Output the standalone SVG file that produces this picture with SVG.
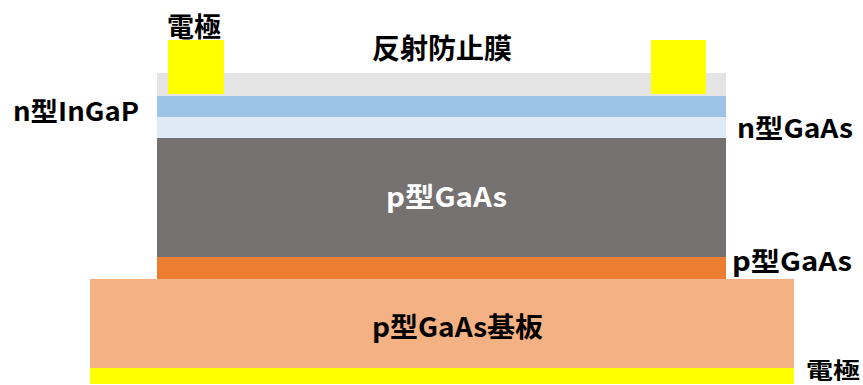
<svg xmlns="http://www.w3.org/2000/svg" width="863" height="385" viewBox="0 0 863 385">
<style>
text{font-family:"Noto Sans CJK JP","Liberation Sans",sans-serif;font-weight:bold;fill:#000;}
.w{fill:#fff;}
.c{text-anchor:middle;}
</style>
<rect width="863" height="385" fill="#fff"/>
<g id="substrate"><rect x="90" y="279" width="704" height="89" fill="#f4b183"/><text x="372" y="337" font-size="27" textLength="171" lengthAdjust="spacingAndGlyphs">p型GaAs基板</text></g>
<g id="bottom-electrode"><rect x="90" y="368" width="704" height="16" fill="#ffff00"/><text x="806" y="378" font-size="22" textLength="54" lengthAdjust="spacingAndGlyphs">電極</text></g>
<g id="p-gaas-thin"><rect x="157" y="257" width="569" height="22" fill="#ed7d31"/><text x="732" y="271" font-size="26" textLength="120" lengthAdjust="spacingAndGlyphs">p型GaAs</text></g>
<g id="p-gaas"><rect x="157" y="138" width="569" height="119" fill="#767171"/><text class="w" x="386" y="207" font-size="27" textLength="121" lengthAdjust="spacingAndGlyphs">p型GaAs</text></g>
<g id="n-gaas"><rect x="157" y="117" width="569" height="21" fill="#deebf7"/><text x="737" y="138" font-size="26" textLength="116" lengthAdjust="spacingAndGlyphs">n型GaAs</text></g>
<g id="n-ingap"><rect x="157" y="96" width="569" height="21" fill="#9dc3e6"/><text x="13" y="121" font-size="26" textLength="126" lengthAdjust="spacingAndGlyphs">n型InGaP</text></g>
<g id="ar-film"><rect x="157" y="73" width="569" height="23" fill="#e4e4e4"/><text class="c" x="442" y="59" font-size="28">反射防止膜</text></g>
<g id="top-electrode-left"><rect x="168" y="40" width="56" height="54" fill="#ffff00"/><text x="167" y="37" font-size="27">電極</text></g>
<g id="top-electrode-right"><rect x="651" y="40" width="55" height="54" fill="#ffff00"/></g>
</svg>
